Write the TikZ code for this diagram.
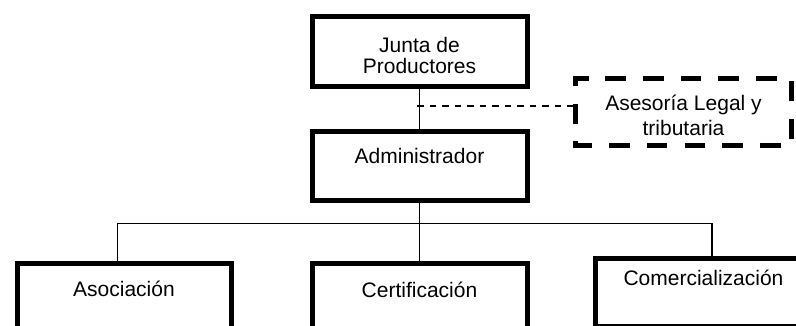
\documentclass[tikz,border=0pt]{standalone}
\usepackage{fontspec}
\setmainfont{Liberation Sans}
\begin{document}
\begin{tikzpicture}[x=1pt,y=-1pt,
  box/.style={draw, line width=5pt, inner sep=0pt, anchor=north west,
    font=\fontsize{21}{21}\selectfont},
  plainbox/.style={draw=none, inner sep=0pt, outer sep=0pt, anchor=north west,
    font=\fontsize{21}{24.5}\selectfont},
  dashborder/.style={line width=5pt, dash pattern=on 20.5pt off 17.23pt},
  link/.style={line width=1.2pt},
  dlink/.style={line width=1.2pt, dash pattern=on 6.5pt off 6pt}]
\useasboundingbox (0,0) rectangle (796,326);
\clip (0,0) rectangle (796,326);

% boxes
\node[box, text height=35.5pt, text depth=34.5pt] (junta) at (309.5,14.5)
  {\parbox[t]{215pt}{\centering Junta de\\Productores}};
\node[plainbox, text height=32.5pt, text depth=34.5pt] (asesoria) at (575.5,78.5)
  {\parbox[t]{216pt}{\centering Asesoría Legal y\\tributaria}};
\node[box, text height=31.5pt, text depth=37.5pt] (admin) at (309.5,129.5)
  {\parbox[t]{215pt}{\centering Administrador}};
\node[box, text height=33.5pt, text depth=50pt] (asoc) at (14.5,260.5)
  {\parbox[t]{214pt}{\centering Asociación}};
\node[box, text height=33.5pt, text depth=50pt] (cert) at (309.5,261)
  {\parbox[t]{215pt}{\centering Certificación}};
\node[box, text height=27.5pt, text depth=40.5pt] (comer) at (592.5,255.5)
  {\parbox[t]{217pt}{\centering Comercialización}};

% dashed border of the advisory box
\draw[dashborder] ([xshift=12.5pt]asesoria.north west) -- (asesoria.north west)
  -- (asesoria.south west) -- (asesoria.south east) -- (asesoria.north east) -- cycle;

% connectors
\coordinate (tap) at (417,106);
\coordinate (busL) at (117.5,223.5);
\coordinate (busR) at (712,223.5);
\draw[link] (junta.south) -- (admin.north);
\draw[dlink] (tap) -- (tap -| asesoria.west);
\draw[link] (admin.south) -- (admin.south |- busL);
\draw[link] (busL) -- (busR);
\draw[link] (busL) -- (busL |- asoc.north);
\draw[link] (admin.south |- busL) -- (cert.north);
\draw[link] (busR) -- (busR |- comer.north);
\end{tikzpicture}
\end{document}
